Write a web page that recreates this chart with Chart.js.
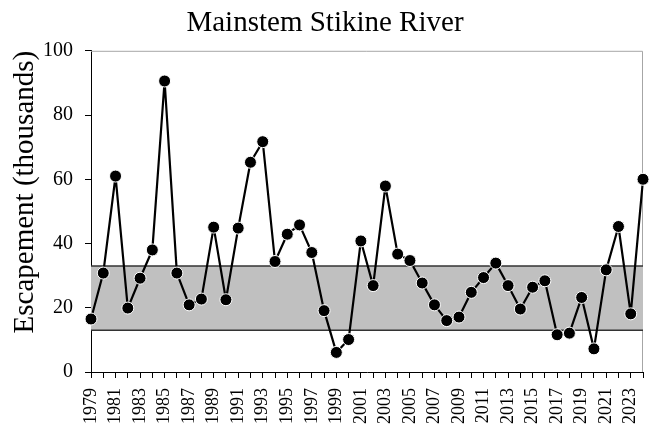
<!DOCTYPE html>
<html>
<head>
<meta charset="utf-8">
<script src="https://cdn.jsdelivr.net/npm/chart.js@4/dist/chart.umd.min.js"></script>
<style>
  html, body { margin: 0; padding: 0; background: #fff; }
  #wrap { width: 654px; height: 429px; }
</style>
</head>
<body>
<div id="wrap"><canvas id="escChart" width="654" height="429"></canvas></div>
<script>
// Years on the x axis
const years = [1979, 1980, 1981, 1982, 1983, 1984, 1985, 1986, 1987, 1988,
    1989, 1990, 1991, 1992, 1993, 1994, 1995, 1996, 1997, 1998,
    1999, 2000, 2001, 2002, 2003, 2004, 2005, 2006, 2007, 2008,
    2009, 2010, 2011, 2012, 2013, 2014, 2015, 2016, 2017, 2018,
    2019, 2020, 2021, 2022, 2023, 2024];

// Escapement, thousands of fish
const escapement = [16.5, 30.8, 61.0, 19.9, 29.2, 38.0, 90.6, 30.8, 20.9, 22.7,
    45.1, 22.5, 44.8, 65.3, 71.7, 34.4, 42.9, 45.8, 37.2, 19.1,
    6.1, 10.1, 40.8, 26.9, 57.9, 36.7, 34.7, 27.7, 20.9, 16.0,
    17.1, 24.8, 29.4, 33.9, 26.9, 19.6, 26.4, 28.4, 11.6, 12.1,
    23.2, 7.2, 31.8, 45.3, 18.1, 60.0];

// Escapement goal range
const goalLow = 13;
const goalHigh = 33;

const yTicks = [0, 20, 40, 60, 80, 100];

const serif = "'Liberation Serif', 'Times New Roman', serif";

// light grey frame on the top and right of the plot
const frameLines = {
    id: "frameLines",
    beforeDatasetsDraw(chart) {
        const {ctx, chartArea: a} = chart;
        ctx.save();
        ctx.strokeStyle = "#a6a6a6";
        ctx.lineWidth = 1;
        ctx.beginPath();
        ctx.moveTo(a.left, a.top + 0.5);
        ctx.lineTo(a.right - 0.5, a.top + 0.5);
        ctx.lineTo(a.right - 0.5, a.bottom);
        ctx.stroke();
        ctx.restore();
    }
};

new Chart(document.getElementById("escChart"), {
    type: "line",
    data: {
        labels: years.map(String),
        datasets: [
            {
                label: "Escapement",
                data: escapement,
                borderColor: "#000",
                borderWidth: 2.2,
                borderJoinStyle: "round",
                backgroundColor: "#000",
                pointRadius: 6,
                pointBackgroundColor: "#000",
                pointBorderColor: "#fff",
                pointBorderWidth: 1,
                tension: 0,
                fill: false
            },
            {
                label: "Goal low",
                data: years.map(() => goalLow),
                borderColor: "#333",
                borderWidth: 1.3,
                pointRadius: 0,
                fill: false
            },
            {
                label: "Goal high",
                data: years.map(() => goalHigh),
                borderColor: "#333",
                borderWidth: 1.3,
                pointRadius: 0,
                backgroundColor: "#c0c0c0",
                fill: "-1"
            }
        ]
    },
    options: {
        responsive: false,
        animation: false,
        layout: { padding: { left: 7, right: 11, top: 0, bottom: 2 } },
        plugins: {
            legend: { display: false },
            tooltip: { enabled: false },
            title: {
                display: true,
                text: "Mainstem Stikine River",
                color: "#000",
                font: { family: serif, size: 29, weight: "normal" },
                padding: { top: 6, bottom: 10 }
            }
        },
        scales: {
            x: {
                type: "category",
                offset: false,
                afterFit: scale => {
                    scale.height = 55;
                    scale.paddingLeft = 0;
                    scale.paddingRight = 0;
                },
                grid: {
                    offset: false,
                    drawOnChartArea: false,
                    drawTicks: true,
                    tickLength: 6,
                    color: "#000"
                },
                border: { color: "#000", width: 1 },
                ticks: {
                    autoSkip: false,
                    minRotation: 90,
                    maxRotation: 90,
                    padding: 10,
                    color: "#000",
                    font: { family: serif, size: 18 },
                    callback: (v, i) => (i % 2 === 0 ? years[i] : "")
                }
            },
            y: {
                min: yTicks[0],
                max: yTicks[yTicks.length - 1],
                afterBuildTicks: scale => { scale.ticks = yTicks.map(v => ({ value: v })); },
                afterFit: scale => { scale.width = 84; },
                grid: {
                    drawOnChartArea: false,
                    drawTicks: true,
                    tickLength: 6,
                    color: "#000"
                },
                border: { color: "#000", width: 1 },
                ticks: {
                    padding: 12,
                    color: "#000",
                    font: { family: serif, size: 20 }
                },
                title: {
                    display: true,
                    text: "Escapement (thousands)",
                    align: "end",
                    color: "#000",
                    font: { family: serif, size: 29 },
                    padding: { top: 1, bottom: 0 }
                }
            }
        }
    },
    plugins: [frameLines]
});
</script>
</body>
</html>
